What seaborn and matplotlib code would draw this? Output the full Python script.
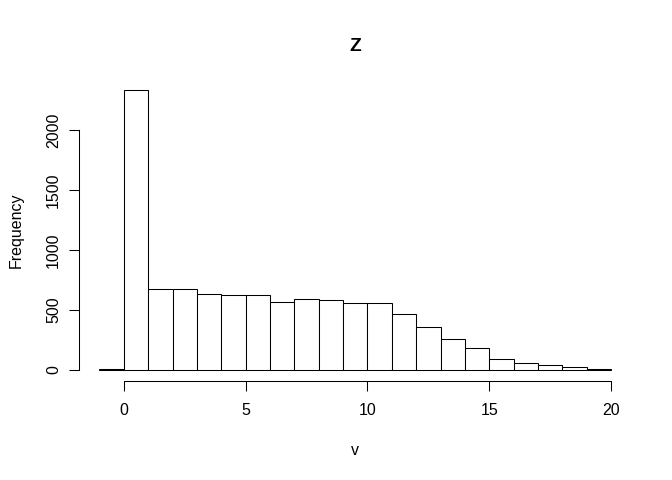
import matplotlib
matplotlib.use("Agg")
import matplotlib.pyplot as plt
import seaborn as sns
import numpy as np
import pandas as pd

# histogram of v, bins of width 1 from -1 to 20
bin_edges = list(range(-1, 21))
counts = [10, 2333, 678, 675, 630, 622, 624, 570, 592, 580, 555, 562,
          467, 361, 256, 186, 94, 58, 39, 22, 11]
title = "Z"
x_label = "v"
y_label = "Frequency"
x_ticks = [0, 5, 10, 15, 20]
y_ticks = [0, 500, 1000, 1500, 2000]

sns.set_style("white", {"xtick.bottom": True, "ytick.left": True,
                        "text.color": "black", "axes.labelcolor": "black"})
plt.rcParams['font.family'] = ['Liberation Sans', 'DejaVu Sans']

df = pd.DataFrame({
    "v": [e + 0.5 for e in bin_edges[:-1]],
    "n": counts,
})

fig = plt.figure(figsize=(6.72, 4.8), dpi=100)
ax = fig.add_axes([79 / 672, 1 - 381.2 / 480, 552.5 / 672, 302.4 / 480])

sns.histplot(data=df, x="v", weights="n", bins=bin_edges, ax=ax,
             color="white", edgecolor="black", linewidth=0.75, alpha=1)

# R style axis ranges (4% padding)
xr = bin_edges[-1] - bin_edges[0]
ax.set_xlim(bin_edges[0] - 0.04 * xr, bin_edges[-1] + 0.04 * xr)
ymax = max(counts)
ax.set_ylim(-0.04 * ymax, ymax * 1.04)

for s in ["top", "right"]:
    ax.spines[s].set_visible(False)
ax.spines["left"].set_bounds(y_ticks[0], y_ticks[-1])
ax.spines["bottom"].set_bounds(x_ticks[0], x_ticks[-1])
for s in ["left", "bottom"]:
    ax.spines[s].set_linewidth(0.75)
    ax.spines[s].set_color("black")

ax.set_xticks(x_ticks)
ax.set_yticks(y_ticks)
ax.set_yticklabels([str(t) for t in y_ticks], rotation=90, va="center")
ax.tick_params(axis="both", direction="out", length=7, width=0.75,
               labelsize=11.5, colors="black", bottom=True, left=True)
ax.tick_params(axis="x", pad=9)
ax.tick_params(axis="y", pad=6)

ax.set_xlabel(x_label, fontsize=11.5, labelpad=18, color="black")
ax.set_ylabel(y_label, fontsize=11.5, labelpad=16, color="black")
ax.set_title(title, fontsize=13.8, fontweight="bold", pad=20, color="black")

fig.savefig("out.png", dpi=100, facecolor="white")
